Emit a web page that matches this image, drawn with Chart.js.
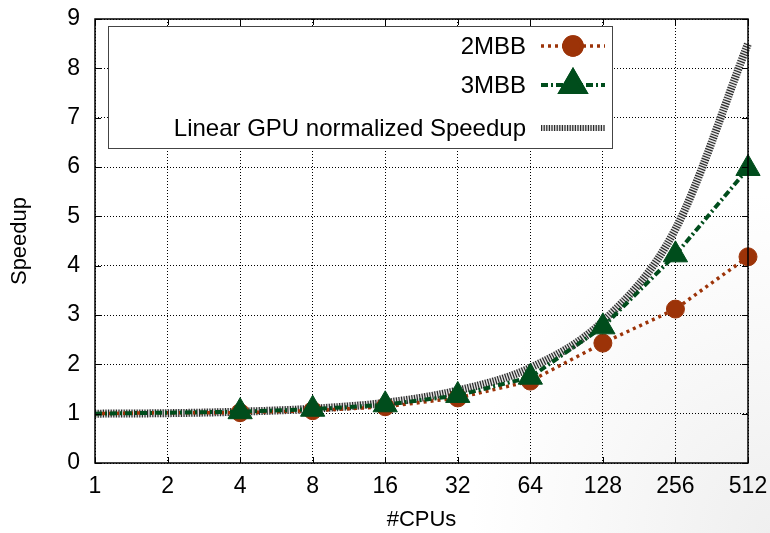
<!DOCTYPE html>
<html>
<head>
<meta charset="utf-8">
<script src="https://cdn.jsdelivr.net/npm/chart.js@4"></script>
<style>
  html, body { margin: 0; padding: 0; }
  body {
    width: 770px; height: 533px; overflow: hidden;
    background: radial-gradient(ellipse 300px 340px at 100% 100%, #efefef 0%, #f8f8f8 55%, #ffffff 100%);
  }
  canvas { display: block; }
</style>
</head>
<body>
<canvas id="myChart" width="770" height="533"></canvas>
<script>
const cpus = ["1", "2", "4", "8", "16", "32", "64", "128", "256", "512"];
const speedup2MBB = [1.0, 1.02, 1.02, 1.06, 1.14, 1.32, 1.66, 2.43, 3.12, 4.18];
const speedup3MBB = [1.0, 1.02, 1.04, 1.09, 1.18, 1.37, 1.74, 2.76, 4.22, 5.97];
const linearGpu = [1.0, 1.01, 1.04, 1.1, 1.22, 1.47, 1.93, 2.87, 4.74, 8.5];
const yTicks = [0, 1, 2, 3, 4, 5, 6, 7, 8, 9];

const FONT = "'Liberation Sans', Arial, sans-serif";
const orange = "#9c3308";
const green = "#004d1c";

// no markers at 1 and 2 cpus
const markers = (r) => cpus.map((c, i) => (i < 2 ? 0 : r));

const noPad = (s) => {
  s.paddingTop = 0;
  s.paddingBottom = 0;
  s.paddingLeft = 0;
  s.paddingRight = 0;
};

const gnuplotFrame = {
  id: "gnuplotFrame",
  afterDatasetsDraw(chart) {
    const { ctx, chartArea: a, scales } = chart;
    ctx.save();
    ctx.strokeStyle = "#000";
    ctx.lineWidth = 1;
    ctx.setLineDash([]);
    ctx.beginPath();
    yTicks.forEach((v) => {
      const y = Math.round(scales.y.getPixelForValue(v)) + 0.5;
      ctx.moveTo(a.left, y); ctx.lineTo(a.left + 6, y);
      ctx.moveTo(a.right, y); ctx.lineTo(a.right - 6, y);
    });
    cpus.forEach((c, i) => {
      const x = Math.round(scales.x.getPixelForValue(i)) + 0.5;
      ctx.moveTo(x, a.bottom); ctx.lineTo(x, a.bottom - 6);
      ctx.moveTo(x, a.top); ctx.lineTo(x, a.top + 6);
    });
    ctx.stroke();
    ctx.lineWidth = 1.5;
    ctx.strokeRect(a.left, a.top, a.right - a.left, a.bottom - a.top);

    // key box, gnuplot style
    const bx = a.left + 13, by = a.top + 7, bw = 504, bh = 122;
    ctx.fillStyle = "#fff";
    ctx.fillRect(bx, by, bw, bh);
    ctx.lineWidth = 1;
    ctx.strokeStyle = "#444";
    ctx.strokeRect(bx + 0.5, by + 0.5, bw, bh);

    const rows = [
      { label: "2MBB", ds: 1, y: by + 20 },
      { label: "3MBB", ds: 2, y: by + 59 },
      { label: "Linear GPU normalized Speedup", ds: 3, y: by + 102 },
    ];
    ctx.font = "24px " + FONT;
    ctx.textAlign = "right";
    ctx.textBaseline = "middle";
    const x0 = bx + 433, x1 = bx + 497;
    rows.forEach((r) => {
      ctx.fillStyle = "#000";
      ctx.fillText(r.label, bx + 418, r.y + 1);
      const d = chart.data.datasets[r.ds];
      if (r.ds === 3) {
        const under = chart.data.datasets[0];
        ctx.setLineDash([]);
        ctx.lineWidth = 6;
        ctx.strokeStyle = under.borderColor;
        ctx.beginPath(); ctx.moveTo(x0, r.y); ctx.lineTo(x1, r.y); ctx.stroke();
      }
      ctx.setLineDash(d.borderDash || []);
      ctx.lineWidth = r.ds === 3 ? 6 : d.borderWidth;
      ctx.strokeStyle = d.borderColor;
      ctx.beginPath(); ctx.moveTo(x0, r.y); ctx.lineTo(x1, r.y); ctx.stroke();
      ctx.setLineDash([]);
      if (d.pointStyle) {
        Chart.helpers.drawPoint(ctx, {
          pointStyle: d.pointStyle,
          radius: Math.max(...d.pointRadius),
          rotation: 0,
          borderWidth: 1,
        }, (x0 + x1) / 2, r.y);
        ctx.fillStyle = d.pointBackgroundColor;
        ctx.strokeStyle = d.pointBorderColor;
        ctx.fill();
        ctx.stroke();
      }
    });
    ctx.restore();
  },
};

new Chart(document.getElementById("myChart"), {
  type: "line",
  data: {
    labels: cpus,
    datasets: [
      {
        label: "Linear GPU normalized Speedup base",
        data: linearGpu,
        borderColor: "#e2e2e2",
        borderWidth: 8,
        pointRadius: 0,
        cubicInterpolationMode: "monotone",
        order: 4,
      },
      {
        label: "2MBB",
        data: speedup2MBB,
        borderColor: orange,
        borderWidth: 3.5,
        borderDash: [3, 4],
        pointStyle: "circle",
        pointRadius: markers(9),
        pointBackgroundColor: orange,
        pointBorderColor: orange,
        pointBorderWidth: 1,
        order: 2,
      },
      {
        label: "3MBB",
        data: speedup3MBB,
        borderColor: green,
        borderWidth: 4,
        borderDash: [7, 3, 2, 3],
        pointStyle: "triangle",
        pointRadius: markers(14),
        pointBackgroundColor: green,
        pointBorderColor: green,
        pointBorderWidth: 1,
        order: 1,
      },
      {
        label: "Linear GPU normalized Speedup",
        data: linearGpu,
        borderColor: "#2a2a2a",
        borderWidth: 8,
        borderDash: [1.2, 1.4],
        borderCapStyle: "butt",
        pointRadius: 0,
        cubicInterpolationMode: "monotone",
        order: 3,
      },
    ],
  },
  options: {
    responsive: false,
    animation: false,
    layout: { padding: { top: 19, right: 22, left: 0, bottom: 0 } },
    plugins: { legend: { display: false }, tooltip: { enabled: false } },
    scales: {
      x: {
        type: "category",
        offset: false,
        grid: { color: "#000", lineWidth: 1, drawTicks: false },
        border: { display: false, dash: [1, 2] },
        ticks: { color: "#000", font: { family: FONT, size: 23 }, padding: 10, maxRotation: 0, autoSkip: false },
        title: { display: true, text: "#CPUs", color: "#000", font: { family: FONT, size: 22 }, padding: 0 },
        afterFit: (s) => { s.height = 70; noPad(s); },
      },
      y: {
        min: 0,
        max: 9,
        grid: { color: "#000", lineWidth: 1, drawTicks: false },
        border: { display: false, dash: [1, 2] },
        ticks: { stepSize: 1, color: "#000", font: { family: FONT, size: 23 }, padding: 15 },
        title: { display: true, text: "Speedup", color: "#000", font: { family: FONT, size: 22 }, padding: { top: 7, bottom: 0 } },
        afterFit: (s) => { s.width = 95; noPad(s); },
      },
    },
  },
  plugins: [gnuplotFrame],
});
</script>
</body>
</html>
